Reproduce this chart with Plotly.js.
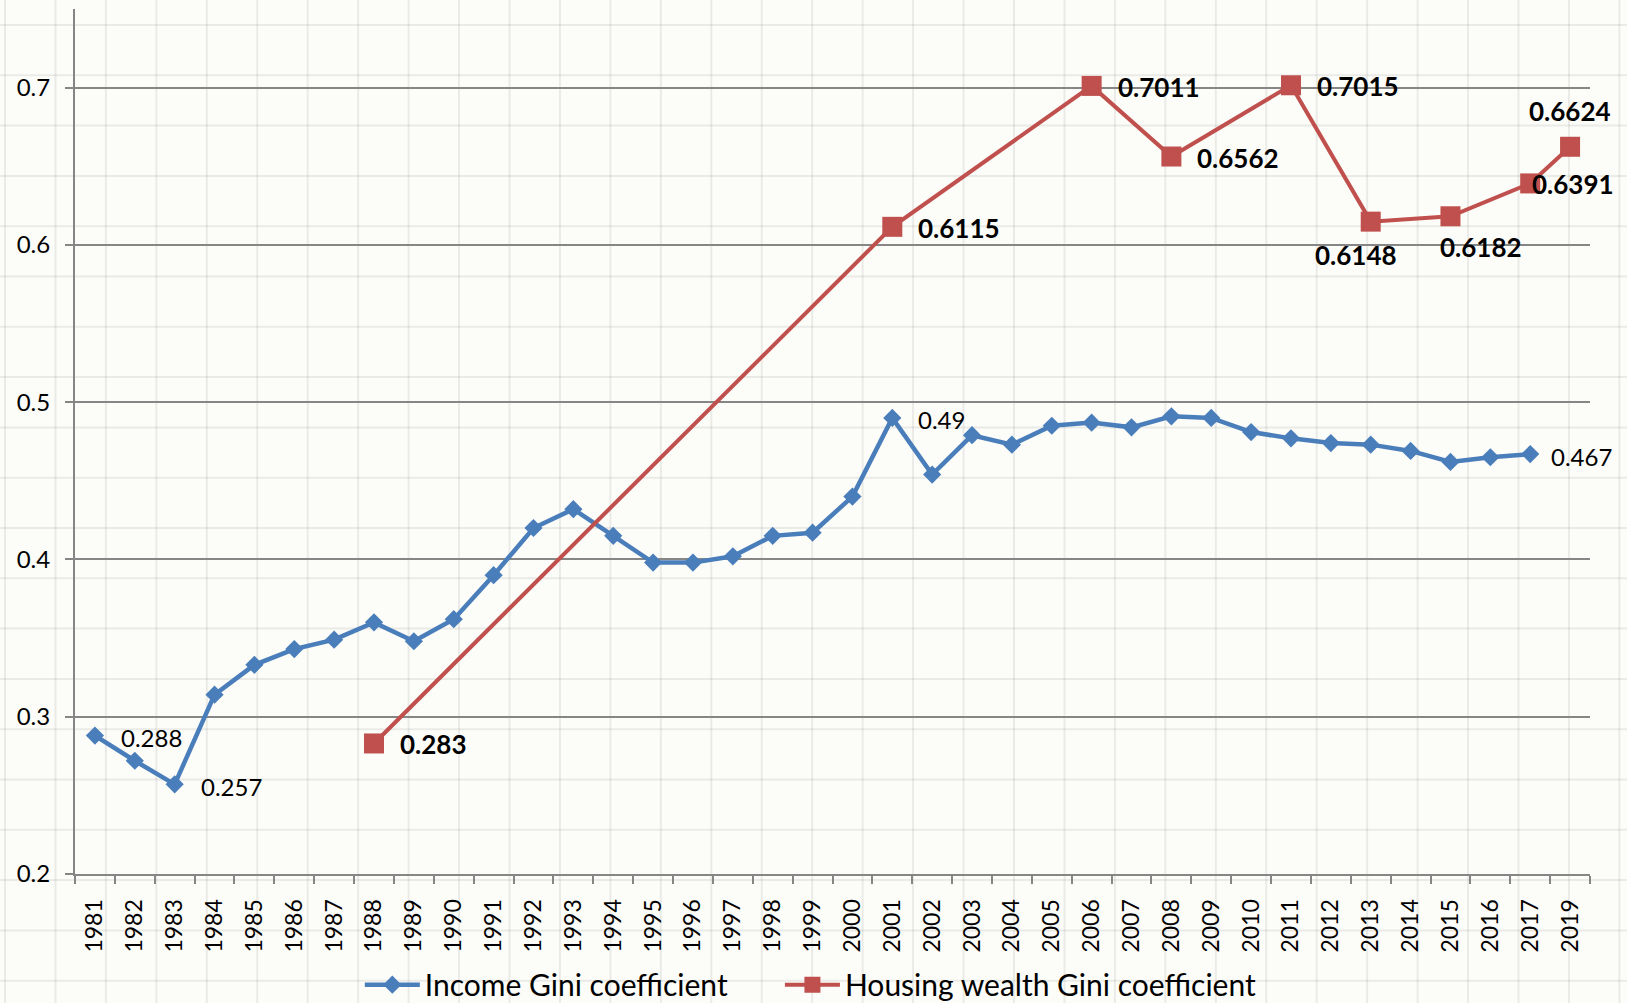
<!DOCTYPE html>
<html>
<head>
<meta charset="utf-8">
<script src="https://cdn.plot.ly/plotly-3.0.1.min.js"></script>
<style>
html,body{margin:0;padding:0;background:#FCFCF8;}
#chart{width:1627px;height:1003px;}
</style>
</head>
<body>
<div id="chart"></div>
<script>
// ---- data ----
const years = ['1981','1982','1983','1984','1985','1986','1987','1988','1989','1990',
  '1991','1992','1993','1994','1995','1996','1997','1998','1999','2000',
  '2001','2002','2003','2004','2005','2006','2007','2008','2009','2010',
  '2011','2012','2013','2014','2015','2016','2017','2019'];

const incomeGini = [0.288,0.272,0.257,0.314,0.333,0.343,0.349,0.360,0.348,0.362,
  0.390,0.420,0.432,0.415,0.398,0.398,0.402,0.415,0.417,0.440,
  0.490,0.454,0.479,0.473,0.485,0.487,0.484,0.491,0.490,0.481,
  0.477,0.474,0.473,0.469,0.462,0.465,0.467,null];

const incomeLabelYears = ['1981','1983','2001','2017'];

const housingYears = ['1988','2001','2006','2008','2011','2013','2015','2017','2019'];
const housingGini = [0.283,0.6115,0.7011,0.6562,0.7015,0.6148,0.6182,0.6391,0.6624];
const housingLabels = ['0.283','0.6115','0.7011','0.6562','0.7015','0.6148','0.6182','0.6391','0.6624'];

const yTicks = [0.2,0.3,0.4,0.5,0.6,0.7];

// ---- styling ----
const BLUE = '#4A7EBB';
const RED = '#C0504D';
const FONT = 'Lato, "Open Sans", sans-serif';
const W = 1627, H = 1003;
const M = {l:75, r:37, t:9, b:129, autoexpand:false};
const plotW = W - M.l - M.r, plotH = H - M.t - M.b;

const traces = [
  {
    x: years, y: incomeGini, type: 'scatter', mode: 'lines+markers',
    name: 'Income Gini coefficient', legend: 'legend',
    line: {color: BLUE, width: 4.5},
    marker: {symbol: 'diamond', size: 14, color: BLUE},
    hoverinfo: 'x+y'
  },
  {
    x: housingYears, y: housingGini, type: 'scatter', mode: 'lines+markers',
    name: 'Housing wealth Gini coefficient', legend: 'legend2',
    line: {color: RED, width: 4},
    marker: {symbol: 'square', size: 20, color: RED},
    hoverinfo: 'x+y'
  }
];

const annotations = [];
incomeLabelYears.forEach(yr => {
  const i = years.indexOf(yr);
  const v = incomeGini[i];
  annotations.push({
    x: i, y: v, xref: 'x', yref: 'y', text: String(v),
    showarrow: false, xanchor: 'left', yanchor: 'middle',
    xshift: yr === '2017' ? 19 : 24, yshift: -2,
    font: {family: FONT, size: 24, color: '#000'}
  });
});
housingYears.forEach((yr, i) => {
  let place = {xanchor: 'left', xshift: 24, yshift: -1};
  if (yr === '2013') place = {xanchor: 'center', xshift: -15, yshift: -33};
  if (yr === '2015') place = {xanchor: 'center', xshift: 31, yshift: -31};
  if (yr === '2017') place = {xanchor: 'left', xshift: 0, yshift: -1};
  if (yr === '2019') place = {xanchor: 'center', xshift: 0, yshift: 36};
  annotations.push(Object.assign({
    x: years.indexOf(yr), y: housingGini[i], xref: 'x', yref: 'y',
    text: '<b>' + housingLabels[i] + '</b>',
    showarrow: false, yanchor: 'middle',
    font: {family: FONT, size: 26, color: '#000'}
  }, place));
});

// faint graph-paper background
const shapes = [];
for (let px = 5; px < W; px += 50.45) {
  const xp = (px - M.l) / plotW;
  shapes.push({type:'line', xref:'paper', yref:'paper', x0:xp, x1:xp,
    y0:-M.b/plotH, y1:1 + M.t/plotH, layer:'below',
    line:{color:'rgba(0,0,0,0.07)', width:2}});
}
for (let py = 25; py < H; py += 50.3) {
  const yp = (H - M.b - py) / plotH;
  shapes.push({type:'line', xref:'paper', yref:'paper', y0:yp, y1:yp,
    x0:-M.l/plotW, x1:1 + M.r/plotW, layer:'below',
    line:{color:'rgba(0,0,0,0.07)', width:2}});
}

const legendBase = {
  orientation: 'h', xanchor: 'left', y: -0.128, yanchor: 'middle',
  font: {family: FONT, size: 30, color: '#000'},
  bgcolor: 'rgba(0,0,0,0)', itemwidth: 55
};

const layout = {
  width: W, height: H, autosize: false,
  margin: M,
  paper_bgcolor: '#FCFCF8',
  plot_bgcolor: 'rgba(0,0,0,0)',
  font: {family: FONT, color: '#000'},
  showlegend: true,
  legend: Object.assign({x: 0.188}, legendBase),
  legend2: Object.assign({x: 0.4653}, legendBase),
  xaxis: {
    type: 'category', categoryorder: 'array', categoryarray: years,
    range: [-0.5, years.length - 0.5], autorange: false, automargin: false,
    tickson: 'boundaries', ticks: 'outside', ticklen: 8, tickwidth: 2, tickcolor: '#868686',
    showline: true, linecolor: '#868686', linewidth: 2,
    showgrid: false, zeroline: false,
    tickangle: -90, tickfont: {family: FONT, size: 23, color: '#000'},
    ticklabelstandoff: 14, fixedrange: true
  },
  yaxis: {
    range: [0.2, 0.75], autorange: false, automargin: false,
    tickvals: yTicks, tickformat: '.1f',
    ticks: 'outside', ticklen: 8, tickwidth: 2, tickcolor: '#868686',
    showline: true, linecolor: '#868686', linewidth: 2,
    showgrid: true, gridcolor: '#868686', gridwidth: 2, zeroline: false,
    tickfont: {family: FONT, size: 24, color: '#000'},
    ticklabelstandoff: 10, fixedrange: true
  },
  annotations: annotations,
  shapes: shapes
};

Plotly.newPlot('chart', traces, layout, {displayModeBar: false, staticPlot: true});
</script>
</body>
</html>
